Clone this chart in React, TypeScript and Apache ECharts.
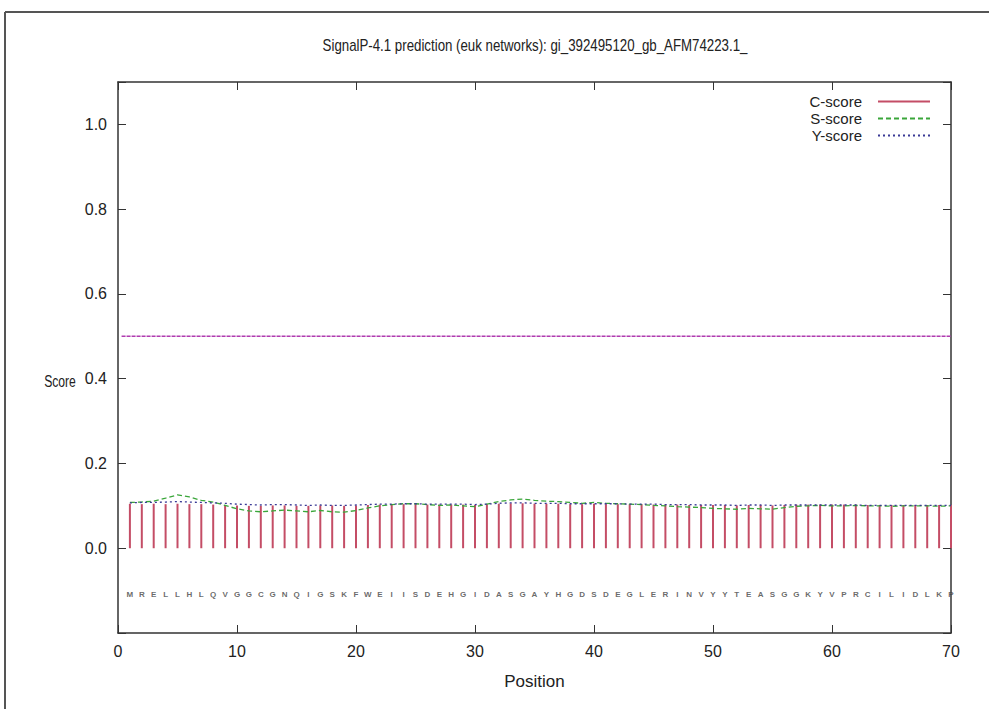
import React, { useEffect, useRef } from "react";
import * as echarts from "echarts";

const titleText = "SignalP-4.1 prediction (euk networks): gi_392495120_gb_AFM74223.1_";

const sequence = [
  "M", "R", "E", "L", "L", "H", "L", "Q", "V", "G",
  "G", "C", "G", "N", "Q", "I", "G", "S", "K", "F",
  "W", "E", "I", "I", "S", "D", "E", "H", "G", "I",
  "D", "A", "S", "G", "A", "Y", "H", "G", "D", "S",
  "D", "E", "G", "L", "E", "R", "I", "N", "V", "Y",
  "Y", "T", "E", "A", "S", "G", "G", "K", "Y", "V",
  "P", "R", "C", "I", "L", "I", "D", "L", "K", "P",
];

const cScore = [
  0.105, 0.104, 0.105, 0.104, 0.105, 0.104, 0.104, 0.103, 0.102, 0.101,
  0.100, 0.100, 0.101, 0.101, 0.100, 0.100, 0.101, 0.101, 0.100, 0.101,
  0.102, 0.103, 0.104, 0.104, 0.104, 0.103, 0.103, 0.103, 0.103, 0.102,
  0.104, 0.105, 0.106, 0.106, 0.105, 0.105, 0.105, 0.104, 0.104, 0.105,
  0.104, 0.104, 0.104, 0.104, 0.103, 0.103, 0.103, 0.102, 0.102, 0.102,
  0.102, 0.101, 0.102, 0.102, 0.101, 0.102, 0.103, 0.103, 0.103, 0.103,
  0.103, 0.103, 0.102, 0.102, 0.102, 0.102, 0.102, 0.102, 0.102, 0.102,
];

const sScore = [
  0.108, 0.109, 0.111, 0.118, 0.126, 0.121, 0.113, 0.109, 0.101, 0.093,
  0.088, 0.086, 0.088, 0.090, 0.088, 0.086, 0.089, 0.086, 0.085, 0.089,
  0.095, 0.100, 0.103, 0.105, 0.105, 0.103, 0.101, 0.102, 0.100, 0.098,
  0.104, 0.110, 0.114, 0.116, 0.113, 0.111, 0.110, 0.108, 0.106, 0.108,
  0.106, 0.105, 0.104, 0.103, 0.101, 0.100, 0.098, 0.097, 0.096, 0.094,
  0.093, 0.092, 0.094, 0.093, 0.092, 0.096, 0.099, 0.100, 0.101, 0.100,
  0.100, 0.101, 0.100, 0.100, 0.099, 0.100, 0.100, 0.100, 0.099, 0.100,
];

const yScore = [
  0.107, 0.108, 0.108, 0.109, 0.110, 0.109, 0.108, 0.107, 0.106, 0.104,
  0.103, 0.102, 0.103, 0.103, 0.102, 0.101, 0.102, 0.101, 0.101, 0.102,
  0.103, 0.104, 0.104, 0.105, 0.105, 0.104, 0.104, 0.104, 0.104, 0.103,
  0.104, 0.106, 0.107, 0.107, 0.106, 0.106, 0.106, 0.105, 0.105, 0.105,
  0.105, 0.105, 0.104, 0.104, 0.104, 0.103, 0.103, 0.103, 0.102, 0.102,
  0.102, 0.101, 0.102, 0.102, 0.101, 0.102, 0.102, 0.102, 0.102, 0.102,
  0.102, 0.102, 0.101, 0.101, 0.101, 0.101, 0.101, 0.101, 0.101, 0.101,
];

const cutoffX = [0.3, 70];
const cutoffValue = 0.5;
const sequenceRowY = -0.11;
const yLabelValues = [0, 0.2, 0.4, 0.6, 0.8, 1.0];

const FONT = "Liberation Sans, Arial, sans-serif";
const AXIS_COLOR = "#333";

// legend sample icons (solid, dashed, dotted)
const ICON_SOLID = "path://M0,0H52V2H0Z";
const ICON_DASHED =
  "path://M0,0H5V2H0Z M8,0H13V2H8Z M16,0H21V2H16Z M24,0H29V2H24Z M32,0H37V2H32Z M40,0H45V2H40Z M48,0H52V2H48Z";
const ICON_DOTTED =
  "path://M0,0H2V2H0Z M5,0H7V2H5Z M10,0H12V2H10Z M15,0H17V2H15Z M20,0H22V2H20Z M25,0H27V2H25Z M30,0H32V2H30Z M35,0H37V2H35Z M40,0H42V2H40Z M45,0H47V2H45Z M50,0H52V2H50Z";

export default function App() {
  const ref = useRef<HTMLDivElement>(null);

  useEffect(() => {
    if (!ref.current) return;
    const chart = echarts.init(ref.current, undefined, { renderer: "svg" });

    const axisCommon = {
      type: "value",
      axisLine: { show: true, onZero: false, lineStyle: { color: AXIS_COLOR, width: 1.5 } },
      axisTick: { show: true, inside: true, length: 8, lineStyle: { color: AXIS_COLOR, width: 1 } },
      splitLine: { show: false },
    };

    const option: any = {
      animation: false,
      backgroundColor: "#ffffff",
      textStyle: { fontFamily: FONT },
      grid: { left: 118, top: 82, width: 833, height: 551, containLabel: false },
      xAxis: [
        {
          ...axisCommon,
          position: "bottom",
          min: 0,
          max: 70,
          interval: 10,
          axisLabel: { fontSize: 16, color: "#222", margin: 10, fontFamily: FONT },
          name: "Position",
          nameLocation: "middle",
          nameGap: 40,
          nameTextStyle: { fontSize: 17, color: "#222", fontFamily: FONT },
        },
        {
          ...axisCommon,
          position: "top",
          min: 0,
          max: 70,
          interval: 10,
          axisLabel: { show: false },
        },
      ],
      yAxis: [
        {
          ...axisCommon,
          position: "left",
          min: -0.2,
          max: 1.1,
          interval: 0.2,
          axisLabel: {
            fontSize: 16,
            color: "#222",
            margin: 11,
            fontFamily: FONT,
            formatter: (v: number) =>
              yLabelValues.some((t) => Math.abs(t - v) < 1e-6) ? v.toFixed(1) : "",
          },
        },
        {
          ...axisCommon,
          position: "right",
          min: -0.2,
          max: 1.1,
          interval: 0.2,
          axisLabel: { show: false },
        },
      ],
      legend: {
        data: [
          { name: "C-score", icon: ICON_SOLID },
          { name: "S-score", icon: ICON_DASHED },
          { name: "Y-score", icon: ICON_DOTTED },
        ],
        orient: "vertical",
        right: 54,
        top: 89,
        align: "right",
        itemWidth: 52,
        itemHeight: 14,
        itemGap: 2,
        symbolKeepAspect: true,
        textStyle: { fontSize: 15, color: "#222", fontFamily: FONT, padding: [0, 11, 0, 0] },
      },
      graphic: [
        { type: "line", shape: { x1: 5, y1: 12, x2: 989, y2: 12 }, style: { stroke: "#555", lineWidth: 2 } },
        { type: "line", shape: { x1: 5, y1: 12, x2: 5, y2: 709 }, style: { stroke: "#555", lineWidth: 2 } },
        {
          type: "text",
          x: 535,
          y: 46,
          scaleX: 0.83,
          style: {
            text: titleText,
            fontSize: 16,
            fill: "#222",
            fontFamily: FONT,
            textAlign: "center",
            textVerticalAlign: "middle",
          },
        },
        {
          type: "text",
          x: 60,
          y: 381,
          scaleX: 0.76,
          style: {
            text: "Score",
            fontSize: 16,
            fill: "#222",
            fontFamily: FONT,
            textAlign: "center",
            textVerticalAlign: "middle",
          },
        },
      ],
      series: [
        {
          name: "C-score",
          type: "bar",
          xAxisIndex: 0,
          yAxisIndex: 0,
          barWidth: 2,
          itemStyle: { color: "#c44d66" },
          data: cScore.map((v, i) => [i + 1, v]),
        },
        {
          name: "S-score",
          type: "line",
          xAxisIndex: 0,
          yAxisIndex: 0,
          symbol: "none",
          showSymbol: false,
          itemStyle: { color: "#3aa63a" },
          lineStyle: { color: "#3aa63a", width: 1.3, type: [5, 3] },
          data: sScore.map((v, i) => [i + 1, v]),
        },
        {
          name: "Y-score",
          type: "line",
          xAxisIndex: 0,
          yAxisIndex: 0,
          symbol: "none",
          showSymbol: false,
          itemStyle: { color: "#3a3a96" },
          lineStyle: { color: "#3a3a96", width: 1.3, type: [2, 3] },
          data: yScore.map((v, i) => [i + 1, v]),
        },
        {
          name: "cutoff",
          type: "line",
          xAxisIndex: 0,
          yAxisIndex: 0,
          symbol: "none",
          showSymbol: false,
          silent: true,
          lineStyle: { color: "#b03cb0", width: 1.5, type: [4, 1] },
          data: cutoffX.map((x) => [x, cutoffValue]),
        },
        {
          name: "sequence",
          type: "scatter",
          xAxisIndex: 0,
          yAxisIndex: 0,
          symbolSize: 0,
          silent: true,
          label: {
            show: true,
            position: "inside",
            fontSize: 8,
            fontWeight: "bold",
            color: "#444",
            fontFamily: FONT,
            formatter: (p: any) => p.value[2],
          },
          data: sequence.map((s, i) => [i + 1, sequenceRowY, s]),
        },
      ],
    };

    chart.setOption(option);
    return () => chart.dispose();
  }, []);

  return (
    <div
      ref={ref}
      style={{ position: "absolute", left: 0, top: 0, width: 989, height: 709, background: "#fff" }}
    />
  );
}
